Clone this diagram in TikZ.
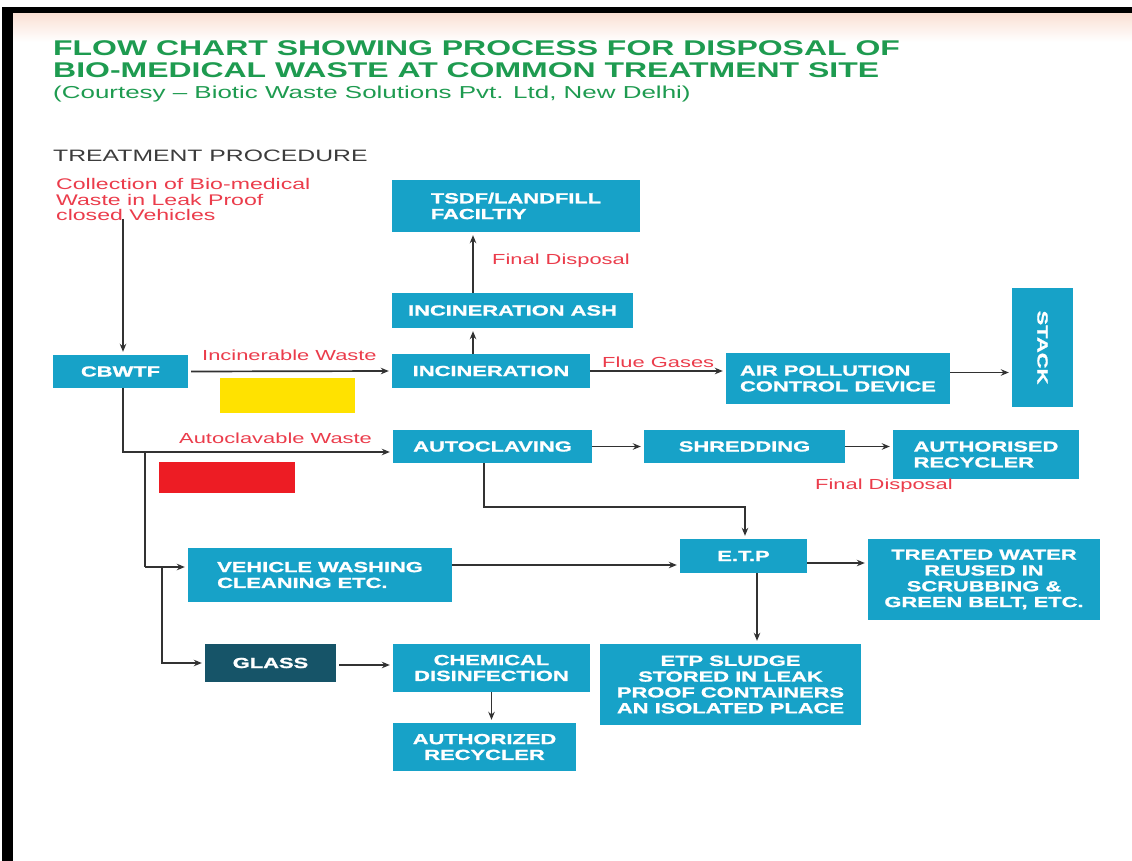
\documentclass[tikz,border=0pt]{standalone}
\usepackage{fontspec}
\setmainfont{Liberation Sans}
\newfontfamily\wreg{Liberation Sans}[FakeStretch=1.5]
\newfontfamily\wbold{Liberation Sans Bold}[FakeStretch=1.5]
\newfontfamily\wheavy{Liberation Sans Bold}[FakeStretch=1.5,FakeBold=1.3]
\usetikzlibrary{arrows.meta}
\definecolor{boxc}{RGB}{23,162,200}
\definecolor{glassc}{RGB}{22,84,104}
\definecolor{titlec}{RGB}{30,155,80}
\definecolor{redtxt}{RGB}{235,60,75}
\definecolor{linec}{RGB}{50,50,50}
\definecolor{yel}{RGB}{255,226,0}
\definecolor{redbar}{RGB}{237,28,36}
\definecolor{graytxt}{RGB}{60,60,60}
\definecolor{peach}{RGB}{250,224,212}
\begin{document}
\begin{tikzpicture}[x=1pt,y=-1pt,
  box/.style={fill=boxc,text=white,font=\wheavy\fontsize{14.6}{15.8}\selectfont,inner sep=0pt,align=left},
  lbl/.style={text=redtxt,font=\wreg\fontsize{14.6}{15.5}\selectfont,inner sep=0pt,anchor=base west},
  conn/.style={draw=linec,line width=1.7pt,-{Stealth[length=8pt,width=6.5pt]},shorten >=3pt},
  plain/.style={draw=linec,line width=1.7pt}]
\useasboundingbox (0,0) rectangle (1132,861);
\fill[white] (0,0) rectangle (1132,861);
\shade[top color=peach,bottom color=white] (13,13) rectangle (1132,42);
\fill[black] (2,7) rectangle (13,861);
\fill[black] (2,7) rectangle (1132,13);

% titles
\node[anchor=base west,inner sep=0pt,text=titlec,font=\wbold\fontsize{21.3}{22}\selectfont] (t1) at (53,56) {FLOW CHART SHOWING PROCESS FOR DISPOSAL OF};
\node[anchor=base west,inner sep=0pt,text=titlec,font=\wbold\fontsize{21.3}{22}\selectfont] (t2) at (53,78) {BIO-MEDICAL WASTE AT COMMON TREATMENT SITE};
\node[anchor=base west,inner sep=0pt,text=titlec,font=\wreg\fontsize{17.3}{18}\selectfont] (t3) at (53,99) {(Courtesy – Biotic Waste Solutions Pvt. Ltd, New Delhi)};
\node[anchor=base west,inner sep=0pt,text=graytxt,font=\wreg\fontsize{16.5}{17}\selectfont] (tp) at (53,162) {TREATMENT PROCEDURE};

% collection text
\node[lbl,font=\wreg\fontsize{15.4}{16}\selectfont] (c1) at (56,190) {Collection of Bio-medical};
\node[lbl,font=\wreg\fontsize{15.4}{16}\selectfont] (c2) at (56,205.5) {Waste in Leak Proof};
\node[lbl,font=\wreg\fontsize{15.4}{16}\selectfont] (c3) at (56,221) {closed Vehicles};

% colour bars
\fill[yel] (220,378) rectangle (355,413);
\fill[redbar] (159,462) rectangle (295,493);

% boxes
\node[box,minimum width=135pt,minimum height=33pt] (cbwtf) at (120.5,371.5) {CBWTF};
\node[box,minimum width=198pt,minimum height=34pt] (inc) at (491,371) {INCINERATION};
\node[box,minimum width=241pt,minimum height=35pt] (ash) at (512.5,310.5) {INCINERATION ASH};
\node[box,minimum width=248pt,minimum height=52pt] (tsdf) at (516,206) {TSDF/LANDFILL\\FACILTIY};
\node[box,minimum width=224pt,minimum height=51pt] (apcd) at (838,378.5) {AIR POLLUTION\\CONTROL DEVICE};
\node[box,rotate=-90,minimum width=119pt,minimum height=61pt] (stack) at (1042.5,347.5) {STACK};
\node[box,minimum width=199pt,minimum height=33pt] (autoc) at (492.5,446.5) {AUTOCLAVING};
\node[box,minimum width=201pt,minimum height=33pt] (shred) at (744.5,446.5) {SHREDDING};
\node[box,minimum width=186pt,minimum height=49pt] (authr) at (986,454.5) {AUTHORISED\\RECYCLER};
\node[box,minimum width=264pt,minimum height=54pt] (veh) at (320,575) {VEHICLE WASHING\\CLEANING ETC.};
\node[box,minimum width=127pt,minimum height=34pt] (etp) at (743.5,556) {E.T.P};
\node[box,align=center,minimum width=232pt,minimum height=81pt] (treat) at (984,579.5) {TREATED WATER\\REUSED IN\\SCRUBBING \&\\GREEN BELT, ETC.};
\node[box,fill=glassc,minimum width=131pt,minimum height=38pt] (glass) at (270.5,663) {GLASS};
\node[box,align=center,minimum width=197pt,minimum height=48pt] (chem) at (491.5,668) {CHEMICAL\\DISINFECTION};
\node[box,align=center,minimum width=183pt,minimum height=48pt] (authz) at (484.5,747) {AUTHORIZED\\RECYCLER};
\node[box,align=center,minimum width=261pt,minimum height=81pt] (sludge) at (730.5,684.5) {ETP SLUDGE\\STORED IN LEAK\\PROOF CONTAINERS\\AN ISOLATED PLACE};

% labels
\node[lbl] (linc) at (202,360) {Incinerable Waste};
\node[lbl] (laut) at (179,443) {Autoclavable Waste};
\node[lbl] (lflue) at (602,367) {Flue Gases};
\node[lbl] (lfd1) at (492,264) {Final Disposal};
\node[lbl] (lfd2) at (815,489) {Final Disposal};

% helper coordinates
\coordinate (c0) at (123,219);
\coordinate (ax) at (473,0);
\coordinate (j1) at (145,452);
\coordinate (j2) at (162,567);

% connectors
\draw[conn] (c0) -- (c0 |- cbwtf.north);
\draw[conn] ([xshift=3pt]cbwtf.east) -- (inc.west);
\draw[conn] (inc.north -| ax) -- (ash.south -| ax);
\draw[conn] (ash.north -| ax) -- (tsdf.south -| ax);
\draw[conn] (inc.east) -- (inc.east -| apcd.west);
\draw[conn] ([yshift=6pt]apcd.east) -- ([yshift=6pt]apcd.east -| stack.south);
\draw[conn] (cbwtf.south -| c0) |- ([yshift=-5.5pt]autoc.west);
\draw[plain] (j1) -- (j2 -| j1);
\draw[conn] (j2 -| j1) -- (j2 -| veh.west);
\draw[conn] (j2) |- (glass.west);
\draw[conn] ([xshift=3pt,yshift=-2pt]glass.east) -- ([yshift=-2pt]glass.east -| chem.west);
\draw[conn] (chem.south) -- (chem.south |- authz.north);
\draw[conn] (autoc.east) -- (shred.west);
\draw[conn] (shred.east) -- (shred.east -| authr.west);
\draw[conn] ([xshift=-8.5pt]autoc.south) -- ++(0,44) -| ([xshift=1.5pt]etp.north);
\draw[conn] ([yshift=10pt]veh.east) -- ([yshift=10pt]veh.east -| etp.west);
\draw[conn] ([yshift=-7pt]etp.east) -- ([yshift=-7pt]etp.east -| treat.west);
\draw[conn] ([xshift=13.5pt]etp.south) -- ([xshift=13.5pt]etp.south |- sludge.north);
\end{tikzpicture}
\end{document}
